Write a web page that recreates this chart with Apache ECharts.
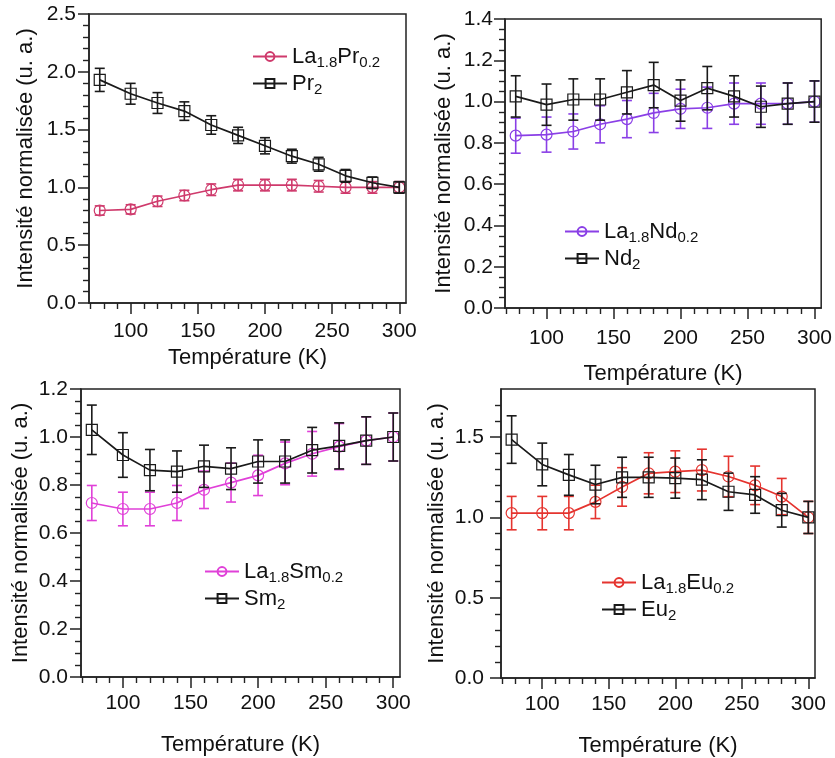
<!DOCTYPE html>
<html>
<head>
<meta charset="utf-8">
<script src="https://cdn.jsdelivr.net/npm/echarts@6/dist/echarts.min.js"></script>
<style>
html,body{margin:0;padding:0;background:#fff;}
#chart{width:835px;height:758px;}
</style>
</head>
<body>
<div id="chart"></div>
<script>
// ---------- data ----------
const temps = [77, 100, 120, 140, 160, 180, 200, 220, 240, 260, 280, 300];

const laPr    = [0.80, 0.81, 0.88, 0.93, 0.98, 1.02, 1.02, 1.02, 1.01, 1.00, 1.00, 1.00];
const laPrErr = [0.04, 0.04, 0.045, 0.045, 0.05, 0.05, 0.05, 0.05, 0.05, 0.05, 0.05, 0.05];
const pr2     = [1.93, 1.81, 1.73, 1.66, 1.54, 1.45, 1.36, 1.27, 1.20, 1.10, 1.04, 1.00];
const pr2Err  = [0.10, 0.09, 0.09, 0.08, 0.08, 0.07, 0.07, 0.06, 0.06, 0.055, 0.05, 0.05];

const laNd    = [0.835, 0.84, 0.855, 0.89, 0.915, 0.945, 0.965, 0.97, 0.99, 0.99, 0.99, 1.00];
const laNdErr = [0.085, 0.085, 0.085, 0.09, 0.09, 0.095, 0.095, 0.10, 0.10, 0.10, 0.10, 0.10];
const nd2     = [1.025, 0.985, 1.01, 1.01, 1.045, 1.08, 1.005, 1.065, 1.025, 0.975, 0.99, 1.00];
const nd2Err  = [0.10, 0.10, 0.10, 0.10, 0.105, 0.11, 0.10, 0.105, 0.10, 0.10, 0.10, 0.10];

const laSm    = [0.725, 0.70, 0.70, 0.725, 0.78, 0.81, 0.84, 0.89, 0.93, 0.96, 0.985, 1.00];
const laSmErr = [0.073, 0.07, 0.07, 0.073, 0.078, 0.081, 0.084, 0.089, 0.093, 0.096, 0.099, 0.10];
const sm2     = [1.03, 0.925, 0.862, 0.856, 0.878, 0.868, 0.898, 0.898, 0.945, 0.963, 0.985, 1.00];
const sm2Err  = [0.103, 0.093, 0.086, 0.086, 0.088, 0.087, 0.09, 0.09, 0.095, 0.096, 0.099, 0.10];

const laEu    = [1.027, 1.027, 1.027, 1.097, 1.19, 1.275, 1.285, 1.295, 1.255, 1.20, 1.13, 1.00];
const laEuErr = [0.104, 0.104, 0.104, 0.104, 0.12, 0.128, 0.13, 0.13, 0.126, 0.12, 0.113, 0.10];
const eu2     = [1.485, 1.33, 1.265, 1.205, 1.25, 1.25, 1.245, 1.235, 1.16, 1.14, 1.045, 1.00];
const eu2Err  = [0.148, 0.133, 0.127, 0.12, 0.125, 0.125, 0.125, 0.124, 0.116, 0.114, 0.105, 0.10];

// ---------- ticks ----------
const xMajorTicks = [100, 150, 200, 250, 300];
const xMinorTicks = [70, 80, 90, 110, 120, 130, 140, 160, 170, 180, 190, 210, 220, 230, 240, 260, 270, 280, 290];

const yTicksPr = [0, 0.5, 1.0, 1.5, 2.0, 2.5];
const yMinorPr = [0.1, 0.2, 0.3, 0.4, 0.6, 0.7, 0.8, 0.9, 1.1, 1.2, 1.3, 1.4, 1.6, 1.7, 1.8, 1.9, 2.1, 2.2, 2.3, 2.4];
const yTicksNd = [0, 0.2, 0.4, 0.6, 0.8, 1.0, 1.2, 1.4];
const yMinorNd = [0.05, 0.1, 0.15, 0.25, 0.3, 0.35, 0.45, 0.5, 0.55, 0.65, 0.7, 0.75, 0.85, 0.9, 0.95, 1.05, 1.1, 1.15, 1.25, 1.3, 1.35];
const yTicksSm = [0, 0.2, 0.4, 0.6, 0.8, 1.0, 1.2];
const yMinorSm = [0.05, 0.1, 0.15, 0.25, 0.3, 0.35, 0.45, 0.5, 0.55, 0.65, 0.7, 0.75, 0.85, 0.9, 0.95, 1.05, 1.1, 1.15];
const yTicksEu = [0, 0.5, 1.0, 1.5];
const yMinorEu = [0.1, 0.2, 0.3, 0.4, 0.6, 0.7, 0.8, 0.9, 1.1, 1.2, 1.3, 1.4, 1.6, 1.7];

const xTitle = 'Température (K)';
const yTitle = 'Intensité normalisée (u. a.)';

// ---------- styling ----------
const FONT = 'Liberation Sans, Arial, sans-serif';
const BLACK = '#1a1a1a';
const panels = [
  { grid: {left: 89, top: 14, width: 317, height: 289}, yMax: 2.5, yTicks: yTicksPr, yMinor: yMinorPr,
    color: '#CF3A6C', la: laPr, laErr: laPrErr, el: pr2, elErr: pr2Err,
    laName: 'La1.8Pr0.2', elName: 'Pr2', laLabel: '{n|La}{s|1.8}{n|Pr}{s|0.2}', elLabel: '{n|Pr}{s|2}',
    legend: {left: 252, top: 43}, yGap: 52, xGap: 44, labelMargin: 18, yMargin: 13 },
  { grid: {left: 505, top: 19, width: 317, height: 289}, yMax: 1.4, yTicks: yTicksNd, yMinor: yMinorNd,
    color: '#8A3FE6', la: laNd, laErr: laNdErr, el: nd2, elErr: nd2Err,
    laName: 'La1.8Nd0.2', elName: 'Nd2', laLabel: '{n|La}{s|1.8}{n|Nd}{s|0.2}', elLabel: '{n|Nd}{s|2}',
    legend: {left: 564, top: 218}, yGap: 50, xGap: 55, labelMargin: 20, yMargin: 12 },
  { grid: {left: 81, top: 389, width: 319, height: 288}, yMax: 1.2, yTicks: yTicksSm, yMinor: yMinorSm,
    color: '#E040D8', la: laSm, laErr: laSmErr, el: sm2, elErr: sm2Err,
    laName: 'La1.8Sm0.2', elName: 'Sm2', laLabel: '{n|La}{s|1.8}{n|Sm}{s|0.2}', elLabel: '{n|Sm}{s|2}',
    legend: {left: 204, top: 558}, yGap: 49, xGap: 57, labelMargin: 16, yMargin: 13 },
  { grid: {left: 501, top: 389, width: 314, height: 289}, yMax: 1.8, yTicks: yTicksEu, yMinor: yMinorEu,
    color: '#E5342F', la: laEu, laErr: laEuErr, el: eu2, elErr: eu2Err,
    laName: 'La1.8Eu0.2', elName: 'Eu2', laLabel: '{n|La}{s|1.8}{n|Eu}{s|0.2}', elLabel: '{n|Eu}{s|2}',
    legend: {left: 601, top: 569}, yGap: 53, xGap: 57, labelMargin: 16, yMargin: 17 }
];

function errRender(color) {
  return function (params, api) {
    const x = api.value(0), lo = api.value(1), hi = api.value(2);
    const a = api.coord([x, lo]), b = api.coord([x, hi]);
    const hw = 5;
    const st = {stroke: color, lineWidth: 1.6};
    return {type: 'group', children: [
      {type: 'line', shape: {x1: a[0], y1: a[1], x2: b[0], y2: b[1]}, style: st},
      {type: 'line', shape: {x1: a[0] - hw, y1: a[1], x2: a[0] + hw, y2: a[1]}, style: st},
      {type: 'line', shape: {x1: b[0] - hw, y1: b[1], x2: b[0] + hw, y2: b[1]}, style: st}
    ]};
  };
}

const grids = [], xAxes = [], yAxes = [], series = [], legends = [];
const labelStyle = {fontSize: 21, color: '#111', fontFamily: FONT};
const titleStyle = {fontSize: 22, color: '#111', fontFamily: FONT};

panels.forEach((p, i) => {
  grids.push(Object.assign({show: true, borderColor: '#222', borderWidth: 1.5, backgroundColor: 'transparent'}, p.grid));
  // major x
  xAxes.push({
    type: 'value', gridIndex: i, position: 'bottom', min: 69, max: 305,
    axisLine: {show: true, onZero: false, lineStyle: {color: '#222', width: 1.5}},
    axisTick: {show: true, length: 11, customValues: xMajorTicks, lineStyle: {color: '#222', width: 1.5}},
    axisLabel: Object.assign({customValues: xMajorTicks, margin: p.labelMargin}, labelStyle),
    splitLine: {show: false},
    name: xTitle, nameLocation: 'middle', nameGap: p.xGap, nameTextStyle: titleStyle
  });
  // minor x
  xAxes.push({
    type: 'value', gridIndex: i, position: 'bottom', min: 69, max: 305,
    axisLine: {show: false, onZero: false},
    axisTick: {show: true, length: 6, customValues: xMinorTicks, lineStyle: {color: '#222', width: 1.4}},
    axisLabel: {show: false}, splitLine: {show: false}
  });
  // major y
  yAxes.push({
    type: 'value', gridIndex: i, position: 'left', min: 0, max: p.yMax,
    axisLine: {show: true, onZero: false, lineStyle: {color: '#222', width: 1.5}},
    axisTick: {show: true, length: 11, customValues: p.yTicks, lineStyle: {color: '#222', width: 1.5}},
    axisLabel: Object.assign({customValues: p.yTicks, margin: p.yMargin, formatter: v => v.toFixed(1)}, labelStyle),
    splitLine: {show: false},
    name: yTitle, nameLocation: 'middle', nameGap: p.yGap, nameRotate: 90, nameTextStyle: titleStyle
  });
  // minor y
  yAxes.push({
    type: 'value', gridIndex: i, position: 'left', min: 0, max: p.yMax,
    axisLine: {show: false, onZero: false},
    axisTick: {show: true, length: 6, customValues: p.yMinor, lineStyle: {color: '#222', width: 1.4}},
    axisLabel: {show: false}, splitLine: {show: false}
  });

  const xi = 2 * i, yi = 2 * i;
  const mk = (vals, errs) => temps.map((t, k) => [t, vals[k] - errs[k], vals[k] + errs[k]]);
  const pts = vals => temps.map((t, k) => [t, vals[k]]);

  series.push({type: 'custom', xAxisIndex: xi, yAxisIndex: yi, renderItem: errRender(p.color),
    data: mk(p.la, p.laErr), encode: {x: 0, y: [1, 2]}, silent: true, z: 2});
  series.push({type: 'line', name: p.laName, xAxisIndex: xi, yAxisIndex: yi, data: pts(p.la),
    symbol: 'circle', symbolSize: 11, showAllSymbol: true,
    lineStyle: {color: p.color, width: 1.7},
    itemStyle: {color: 'rgba(255,255,255,0)', borderColor: p.color, borderWidth: 1.2},
    z: 3, animation: false});
  series.push({type: 'custom', xAxisIndex: xi, yAxisIndex: yi, renderItem: errRender(BLACK),
    data: mk(p.el, p.elErr), encode: {x: 0, y: [1, 2]}, silent: true, z: 4});
  series.push({type: 'line', name: p.elName, xAxisIndex: xi, yAxisIndex: yi, data: pts(p.el),
    symbol: 'rect', symbolSize: 11, showAllSymbol: true,
    lineStyle: {color: BLACK, width: 1.7},
    itemStyle: {color: 'rgba(255,255,255,0)', borderColor: BLACK, borderWidth: 1.2},
    z: 5, animation: false});

  const labels = {};
  labels[p.laName] = p.laLabel;
  labels[p.elName] = p.elLabel;
  legends.push({
    data: [p.laName, p.elName], orient: 'vertical', left: p.legend.left, top: p.legend.top,
    itemWidth: 34, itemHeight: 11, itemGap: 0, padding: 0, selectedMode: false,
    formatter: name => labels[name],
    textStyle: {
      color: '#111', fontFamily: FONT,
      rich: {
        n: {fontSize: 22, lineHeight: 25, fontFamily: FONT, color: '#111'},
        s: {fontSize: 15, lineHeight: 15, padding: [12, 0, 0, 0], fontFamily: FONT, color: '#111'}
      }
    }
  });
});

const chart = echarts.init(document.getElementById('chart'), null, {renderer: 'canvas'});
chart.setOption({
  animation: false,
  backgroundColor: '#fff',
  grid: grids, xAxis: xAxes, yAxis: yAxes, series: series, legend: legends
});
</script>
</body>
</html>
